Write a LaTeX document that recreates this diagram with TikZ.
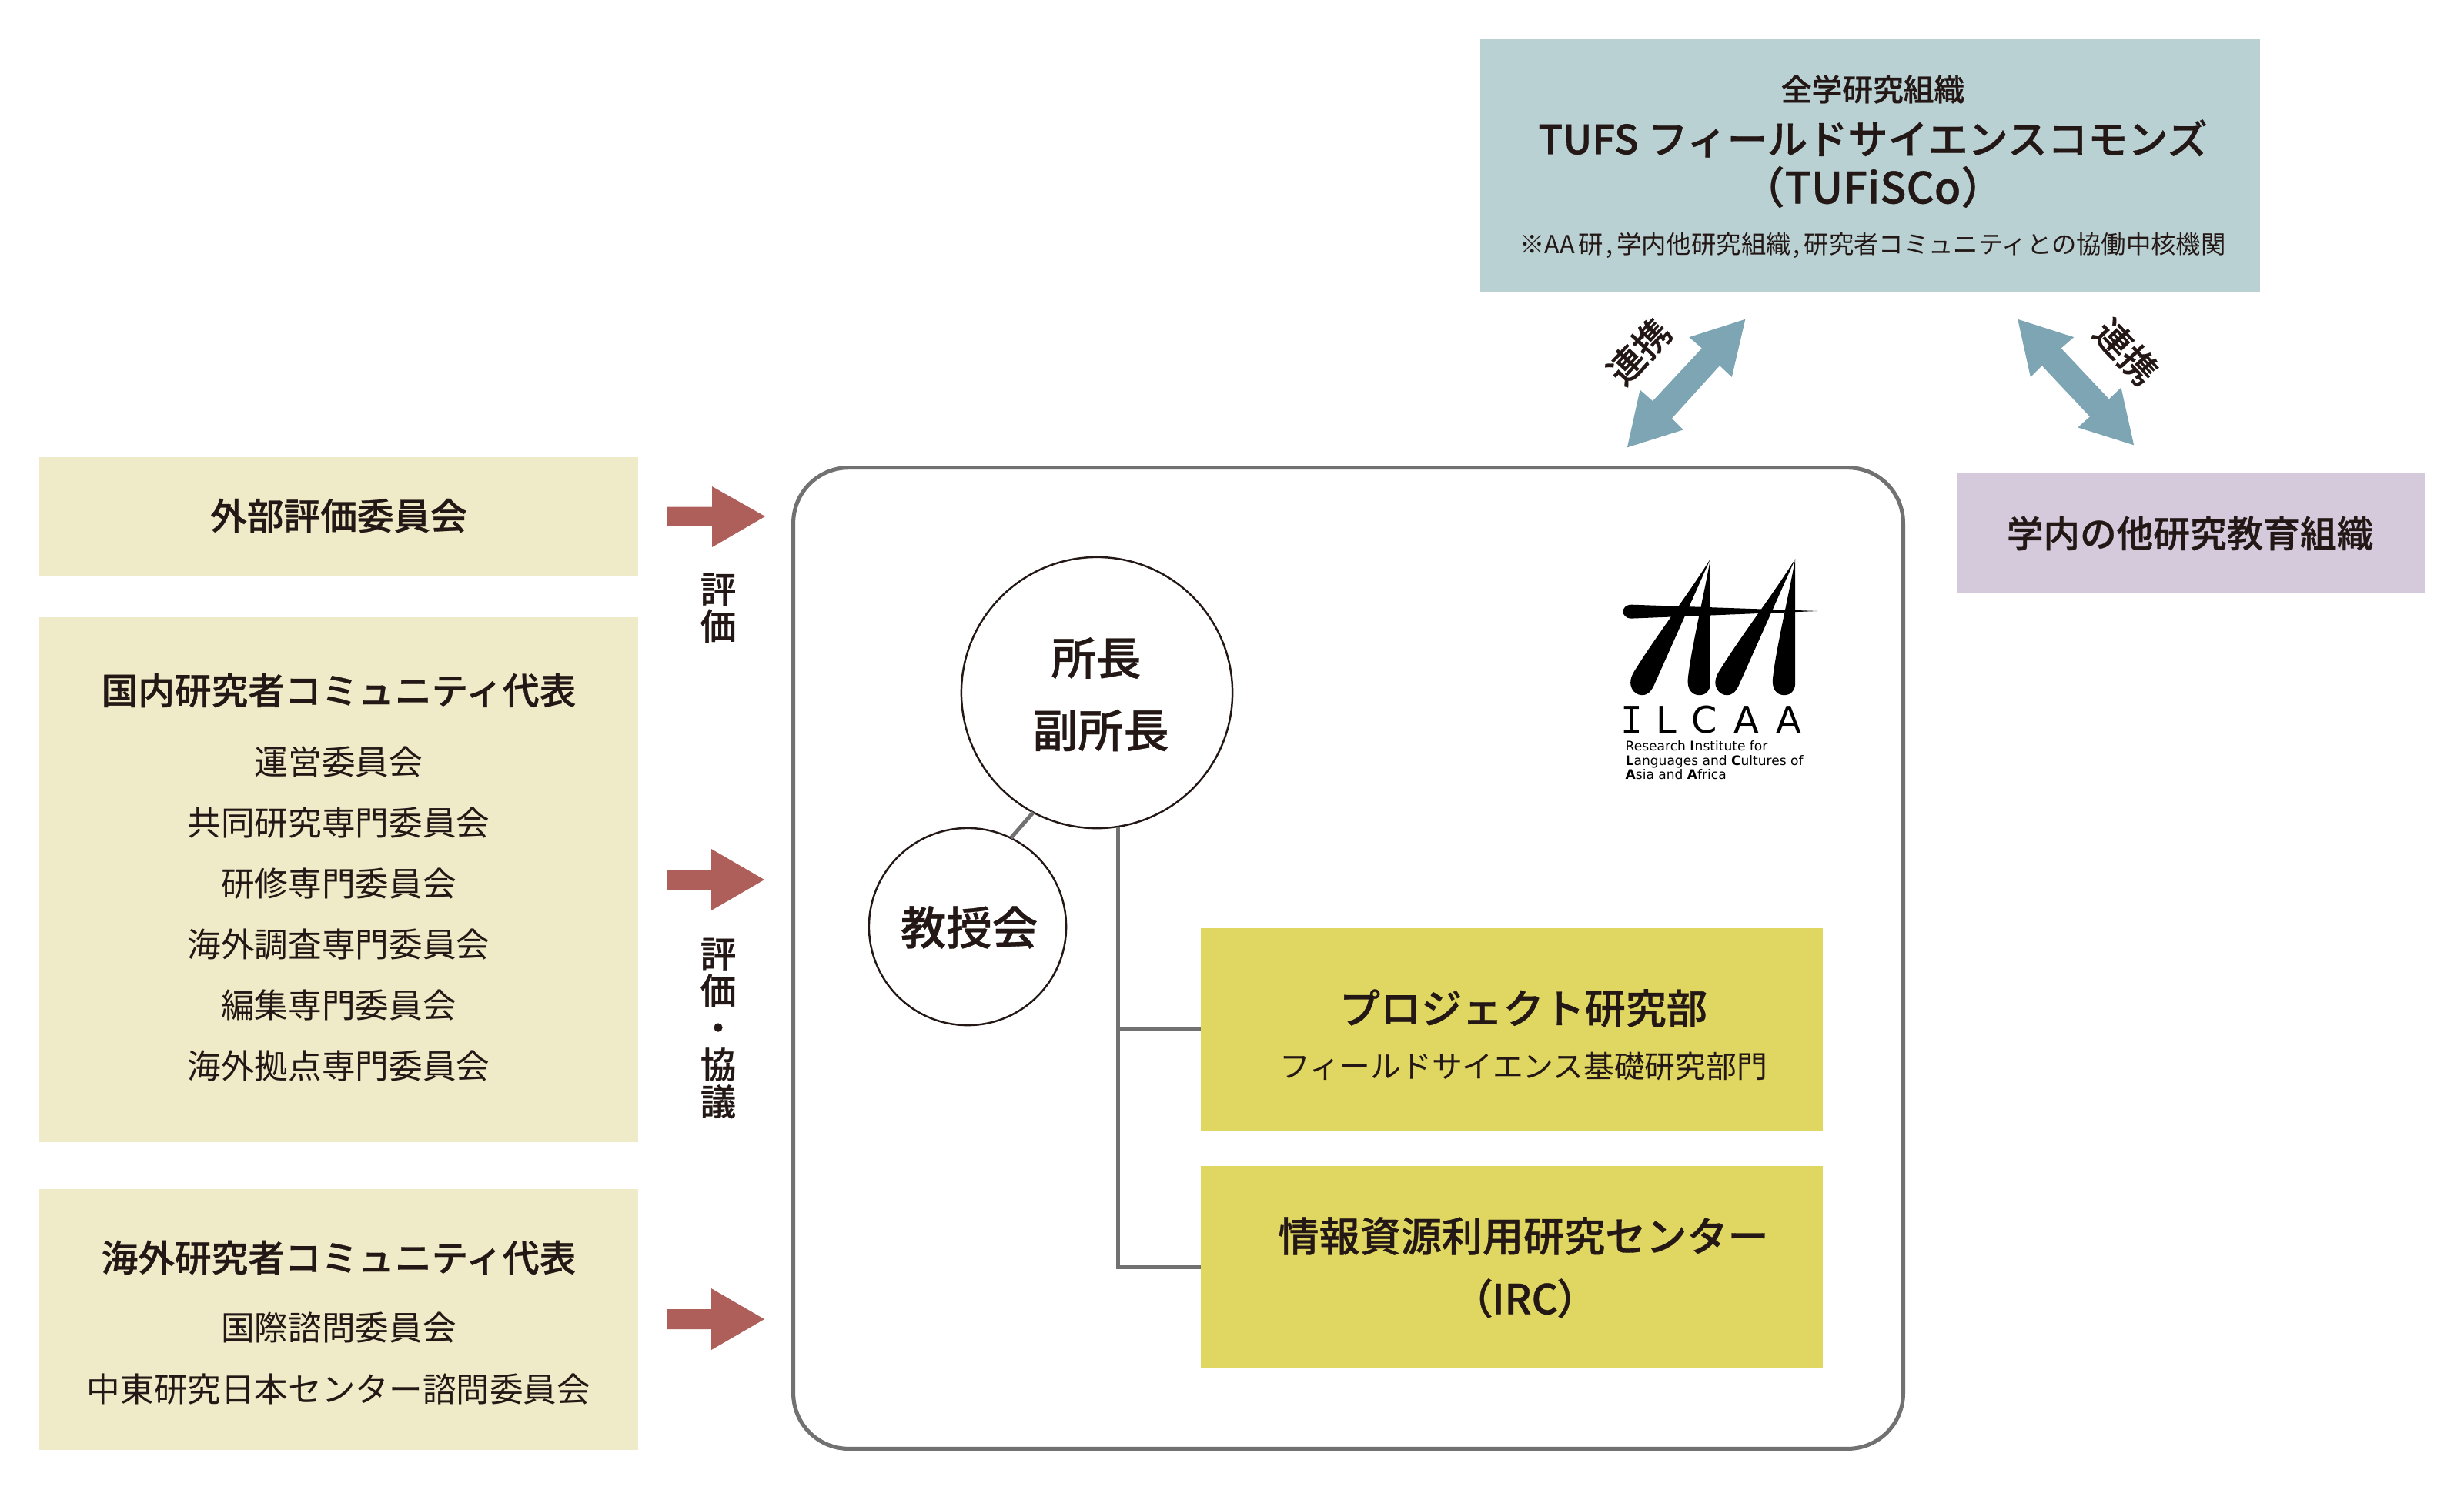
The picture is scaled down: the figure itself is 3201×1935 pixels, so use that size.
\documentclass[tikz,border=0pt]{standalone}
\usepackage{fontspec}
\setmainfont{Noto Sans CJK JP}
\newfontfamily\jpm[FakeBold=0.6]{Noto Sans CJK JP Medium}
\newfontfamily\jpp[FakeBold=0.6,RawFeature=+palt]{Noto Sans CJK JP Medium}
\newfontfamily\jpr{Noto Sans CJK JP}
\newfontfamily\logof{DejaVu Sans}
\newfontfamily\logom{DejaVu Sans Mono}
\newcommand{\pxs}[1]{\fontsize{#1}{#1}\selectfont}
\definecolor{ink}{HTML}{231815}
\definecolor{cream}{HTML}{EFEAC7}
\definecolor{teal}{HTML}{BAD1D4}
\definecolor{lilac}{HTML}{D4CADC}
\definecolor{mustard}{HTML}{E0D662}
\definecolor{brick}{HTML}{AE5F5A}
\definecolor{steel}{HTML}{7DA5B4}
\definecolor{rule}{HTML}{727171}
\tikzset{
  plate/.style={rectangle,inner sep=0pt,outer sep=0pt},
  head/.style={text=ink,inner sep=0pt,font=\jpm\pxs{13.55}},
  sub/.style={text=ink,inner sep=0pt,font=\jpr\pxs{12.4}},
  person/.style={circle,draw=ink,line width=0.7pt,fill=white,inner sep=0pt,outer sep=0pt,text=ink,align=center},
  link/.style={draw=rule,line width=1.45pt},
  logotext/.style={text=black,inner sep=0pt,anchor=base west,font=\logof\pxs{4.85}},
}
\begin{document}
\begin{tikzpicture}[x=0.01cm,y=-0.01cm]
\useasboundingbox (0,0) rectangle (3201,1935);
% left plates
\node[plate,fill=cream,minimum width=7.78cm,minimum height=1.55cm] (extp) at (440,671.5) {};
\node[plate,fill=cream,minimum width=7.78cm,minimum height=6.82cm] (domp) at (440,1143) {};
\node[plate,fill=cream,minimum width=7.78cm,minimum height=3.39cm] (ovsp) at (440,1714.5) {};
\node[head] (ext) at (440,670) {外部評価委員会};
\node[head] (dom) at (440,897) {国内研究者コミュニティ代表};
\node[sub] (d1) at (440,990) {運営委員会};
\node[sub] (d2) at (440,1069) {共同研究専門委員会};
\node[sub] (d3) at (440,1148) {研修専門委員会};
\node[sub] (d4) at (440,1227) {海外調査専門委員会};
\node[sub] (d5) at (440,1306) {編集専門委員会};
\node[sub] (d6) at (440,1385) {海外拠点専門委員会};
\node[head] (ovs) at (440,1634) {海外研究者コミュニティ代表};
\node[sub] (o1) at (440,1725) {国際諮問委員会};
\node[sub] (o2) at (440,1805) {中東研究日本センター諮問委員会};
% red arrows
\fill[brick] (867,658.5) -- (925,658.5) -- (925,632) -- (994,671) -- (925,711) -- (925,683) -- (867,683) -- cycle;
\fill[brick] (866,1130) -- (924,1130) -- (924,1103) -- (993,1143) -- (924,1183) -- (924,1156) -- (866,1156) -- cycle;
\fill[brick] (866,1701) -- (924,1701) -- (924,1674) -- (993,1714) -- (924,1754) -- (924,1727) -- (866,1727) -- cycle;
\node[text=ink,inner sep=0pt,align=center,font=\jpm\fontsize{13.3}{13.66}\selectfont] (lab1) at (933,790) {評\\価};
\node[text=ink,inner sep=0pt,align=center,font=\jpm\fontsize{13.3}{13.66}\selectfont] (lab2) at (933,1336) {評\\価\\・\\協\\議};
% main frame
\node[plate,draw=rule,line width=1.45pt,rounded corners=0.72cm,minimum width=14.41cm,minimum height=12.74cm] (frame) at (1751.5,1245) {};
% yellow plates
\node[plate,fill=mustard,minimum width=8.08cm,minimum height=2.62cm] (y1) at (1964,1337.5) {};
\node[plate,fill=mustard,minimum width=8.08cm,minimum height=2.62cm] (y2) at (1964,1646.5) {};
% circles
\node[person,minimum size=3.52cm] (c1) at (1425,900) {};
\node[person,minimum size=2.56cm] (c2) at (1257,1204) {};
\draw[link] (c1.242) -- (c2.64);
\draw[link] (c1.279) -- (c1.279 |- y2.west) -- (y2.west);
\draw[link] (c1.279 |- y1.west) -- (y1.west);
\node[text=ink,inner sep=0pt,font=\jpm\pxs{16.6}] (t1) at (1424,855) {所長};
\node[text=ink,inner sep=0pt,font=\jpm\pxs{16.8}] (t2) at (1430,949) {副所長};
\node[text=ink,inner sep=0pt,font=\jpm\pxs{16.9}] (t3) at (1259,1205) {教授会};
\node[text=ink,inner sep=0pt,font=\jpm\pxs{15.1}] (y1a) at (1979,1310) {プロジェクト研究部};
\node[text=ink,inner sep=0pt,font=\jpr\pxs{11.3}] (y1b) at (1979,1385) {フィールドサイエンス基礎研究部門};
\node[text=ink,inner sep=0pt,font=\jpm\pxs{15.1}] (y2a) at (1979,1606) {情報資源利用研究センター};
\node[text=ink,inner sep=0pt,font=\jpp\pxs{15.2}] (y2b) at (1981,1687) {（IRC）};
% top plate
\node[plate,fill=teal,minimum width=10.13cm,minimum height=3.29cm] (top) at (2429.5,215.5) {};
\node[text=ink,inner sep=0pt,font=\jpm\pxs{11.3}] (top1) at (2433,116) {全学研究組織};
\node[text=ink,inner sep=0pt,font=\jpm\pxs{14.85}] (top2) at (2433,180) {TUFS フィールドサイエンスコモンズ};
\node[text=ink,inner sep=0pt,font=\jpm\pxs{16}] (top3) at (2433,243) {（TUFiSCo）};
\node[text=ink,inner sep=0pt,font=\jpr\pxs{9.2}] (top4) at (2433,319) {※AA\hspace{0.15em}研\hspace{0.1em},\hspace{0.15em}学内他研究組織\hspace{0.1em},\hspace{0.15em}研究者コミュニティとの協働中核機関};
% lilac plate
\node[plate,fill=lilac,minimum width=6.08cm,minimum height=1.56cm] (pur) at (2846,692) {};
\node[head] (purt) at (2845,693) {学内の他研究教育組織};
% blue arrows
\fill[steel] (2267.3,414.8) -- (2194.3,438.1) -- (2210.9,452.5) -- (2147,521) -- (2130.5,506.6) -- (2113.9,581.3) -- (2186.8,558.4) -- (2171.9,543.6) -- (2234,475.1) -- (2249.8,489.9) -- cycle;
\fill[steel] (2621.2,414.8) -- (2694.2,438.1) -- (2677.6,452.5) -- (2739.8,518.4) -- (2755.5,503.6) -- (2772.1,578.3) -- (2699.2,555.4) -- (2714.9,541.3) -- (2652.7,475.1) -- (2637.8,489.9) -- cycle;
\node[text=ink,inner sep=0pt,rotate=47,font=\jpm\pxs{13.4}] (ren1) at (2129,457) {連携};
\node[text=ink,inner sep=0pt,rotate=-47,font=\jpm\pxs{13.4}] (ren2) at (2762,457) {連携};
% logo
\begin{scope}[shift={(2040,698)},scale=0.332]
\fill[black] (548,85) .. controls (450,240) and (340,380) .. (250,525) .. controls (215,580) and (250,618) .. (280,618) .. controls (305,618) and (318,600) .. (328,578) -- cycle;
\fill[black] (548,85) .. controls (520,240) and (470,450) .. (460,555) .. controls (456,600) and (480,618) .. (505,618) .. controls (530,618) and (548,600) .. (548,570) -- cycle;
\fill[black] (880,85) .. controls (782,240) and (672,380) .. (582,525) .. controls (547,580) and (582,618) .. (612,618) .. controls (637,618) and (650,600) .. (660,578) -- cycle;
\fill[black] (880,85) .. controls (852,240) and (802,450) .. (792,555) .. controls (788,600) and (812,618) .. (837,618) .. controls (862,618) and (880,600) .. (880,570) -- cycle;
\fill[black] (968,289) -- (240,264) .. controls (195,264) and (195,318) .. (240,318) -- cycle;
\end{scope}
\node[text=black,inner sep=0pt,anchor=base,font=\logom\pxs{13.6}] (la) at (2119.7,952) {I};
\node[text=black,inner sep=0pt,anchor=base,font=\logof\pxs{13.6}] (lb) at (2164.5,952) {L};
\node[text=black,inner sep=0pt,anchor=base,font=\logof\pxs{13.6}] (lc) at (2214.3,952) {C};
\node[text=black,inner sep=0pt,anchor=base,font=\logof\pxs{13.6}] (ld) at (2269,952) {A};
\node[text=black,inner sep=0pt,anchor=base,font=\logof\pxs{13.6}] (le) at (2323.9,952) {A};
\node[logotext] (l1) at (2111,975.5) {Research \textbf{I}nstitute for};
\node[logotext] (l2) at (2111,994) {\textbf{L}anguages and \textbf{C}ultures of};
\node[logotext] (l3) at (2111,1012) {\textbf{A}sia and \textbf{A}frica};
\end{tikzpicture}
\end{document}
